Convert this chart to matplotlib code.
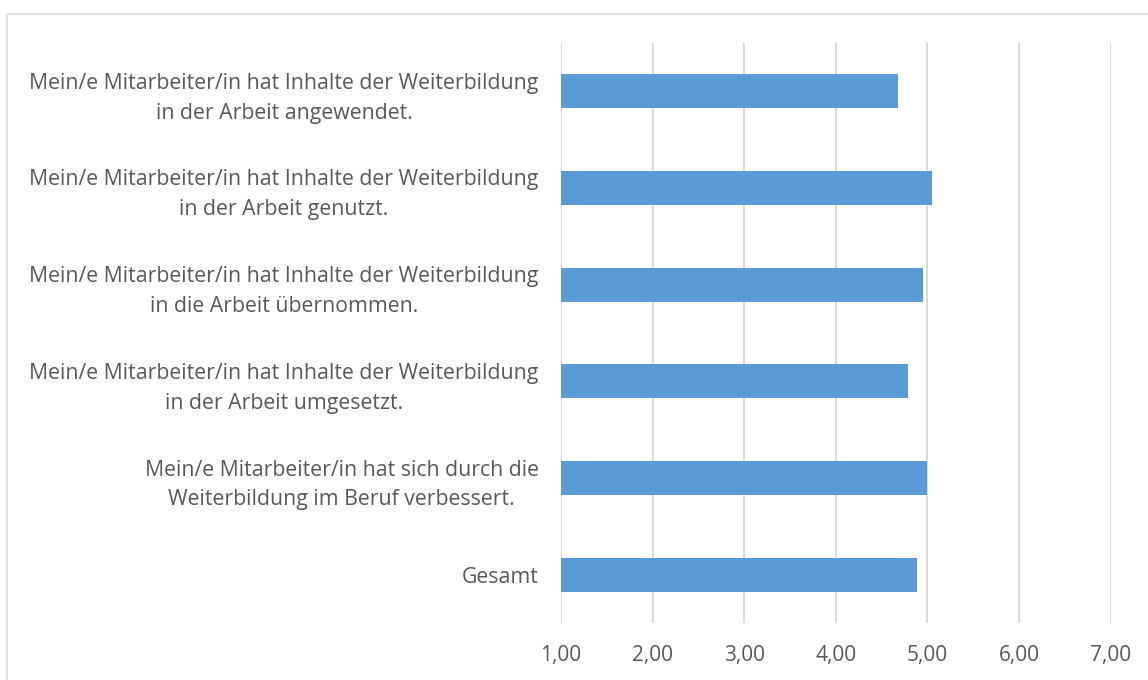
import matplotlib
matplotlib.use("Agg")
import matplotlib.pyplot as plt
from matplotlib.patches import Rectangle

# items from top to bottom
labels = [
    "Mein/e Mitarbeiter/in hat Inhalte der Weiterbildung\nin der Arbeit angewendet.",
    "Mein/e Mitarbeiter/in hat Inhalte der Weiterbildung\nin der Arbeit genutzt.",
    "Mein/e Mitarbeiter/in hat Inhalte der Weiterbildung\nin die Arbeit übernommen.",
    "Mein/e Mitarbeiter/in hat Inhalte der Weiterbildung\nin der Arbeit umgesetzt.",
    "Mein/e Mitarbeiter/in hat sich durch die\nWeiterbildung im Beruf verbessert.",
    "Gesamt",
]
values = [4.68, 5.05, 4.95, 4.79, 5.00, 4.89]
xticks = [1, 2, 3, 4, 5, 6, 7]
xticklabels = ["1,00", "2,00", "3,00", "4,00", "5,00", "6,00", "7,00"]

W, H = 1148, 680
fig = plt.figure(figsize=(W / 100, H / 100), dpi=100)
plt.rcParams['font.family'] = ['Open Sans', 'DejaVu Sans']
textcol = '#595959'

ax = fig.add_axes([561 / W, 1 - 623 / H, (1110.6 - 561) / W, (623 - 43) / H])

ypos = list(range(len(labels)))
ax.barh(ypos, values, height=0.35, color='#5B9BD5', zorder=3)

ax.set_xlim(1, 7)
ax.set_ylim(len(labels) - 0.5, -0.5)
ax.set_xticks(xticks)
ax.set_xticklabels(xticklabels)
ax.set_yticks(ypos)
ax.set_yticklabels(labels, multialignment='center', linespacing=1.55)
ax.tick_params(axis='x', length=0, pad=16, labelsize=15, labelcolor=textcol)
ax.tick_params(axis='y', length=0, pad=16, labelsize=15.3, labelcolor=textcol)
for s in ax.spines.values():
    s.set_visible(False)
ax.grid(axis='x', color='#d9d9d9', linewidth=1.4, zorder=0)
ax.set_axisbelow(True)

# outer chart border
fig.patches.append(Rectangle((7 / W, -0.05), 1.0, 1 - 14 / H + 0.05,
                             transform=fig.transFigure, fill=False,
                             edgecolor='#d9d9d9', linewidth=1.2))

fig.savefig("out.png", dpi=100)
